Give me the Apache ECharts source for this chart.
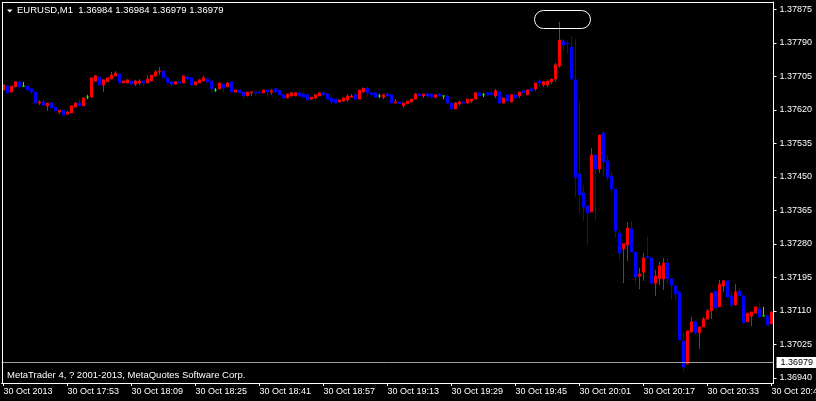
<!DOCTYPE html>
<html><head><meta charset="utf-8">
<script src="https://cdn.jsdelivr.net/npm/echarts@6/dist/echarts.min.js"></script>
<style>html,body{margin:0;padding:0;background:#000;}#c{width:816px;height:401px;}</style>
</head><body><div id="c"></div>
<script>
const symbolTitle = 'EURUSD,M1';
const headerOHLC = ['1.36984', '1.36984', '1.36979', '1.36979'];
const copyrightText = 'MetaTrader 4, ? 2001-2013, MetaQuotes Software Corp.';
const bidPrice = 1.36979;
const firstMinute = '17:37';
const xTickLabels = ['30 Oct 2013', '30 Oct 17:53', '30 Oct 18:09', '30 Oct 18:25', '30 Oct 18:41', '30 Oct 18:57', '30 Oct 19:13', '30 Oct 19:29', '30 Oct 19:45', '30 Oct 20:01', '30 Oct 20:17', '30 Oct 20:33', '30 Oct 20:49'];
const yTicks = [1.36940, 1.37025, 1.37110, 1.37195, 1.37280, 1.37365, 1.37450, 1.37535, 1.37620, 1.37705, 1.37790, 1.37875];
const yRange = [1.369268, 1.378934];
// highlighted object around the spike: [first bar, last bar, top price, bottom price]
const highlightBox = [133, 146, 1.37873, 1.37827];

const opens = [
1.37670, 1.37680, 1.37665, 1.37678, 1.37691, 1.37680, 1.37680, 1.37673, 1.37665, 1.37637,
1.37640, 1.37630, 1.37637, 1.37627, 1.37614, 1.37619, 1.37609, 1.37612, 1.37627, 1.37637,
1.37630, 1.37652, 1.37652, 1.37693, 1.37703, 1.37683, 1.37691, 1.37698, 1.37706, 1.37711,
1.37688, 1.37688, 1.37693, 1.37685, 1.37688, 1.37693, 1.37688, 1.37693, 1.37706, 1.37716,
1.37718, 1.37701, 1.37691, 1.37685, 1.37691, 1.37688, 1.37703, 1.37701, 1.37683, 1.37688,
1.37693, 1.37698, 1.37693, 1.37670, 1.37673, 1.37685, 1.37678, 1.37691, 1.37665, 1.37670,
1.37665, 1.37655, 1.37663, 1.37665, 1.37665, 1.37663, 1.37670, 1.37665, 1.37673, 1.37670,
1.37658, 1.37650, 1.37655, 1.37655, 1.37663, 1.37660, 1.37658, 1.37647, 1.37650, 1.37655,
1.37663, 1.37660, 1.37650, 1.37647, 1.37640, 1.37642, 1.37645, 1.37652, 1.37658, 1.37647,
1.37665, 1.37675, 1.37663, 1.37663, 1.37655, 1.37652, 1.37660, 1.37658, 1.37637, 1.37640,
1.37630, 1.37635, 1.37640, 1.37647, 1.37660, 1.37655, 1.37660, 1.37660, 1.37652, 1.37660,
1.37655, 1.37655, 1.37637, 1.37622, 1.37635, 1.37640, 1.37637, 1.37642, 1.37647, 1.37663,
1.37658, 1.37663, 1.37663, 1.37655, 1.37665, 1.37637, 1.37658, 1.37640, 1.37658, 1.37655,
1.37668, 1.37658, 1.37673, 1.37673, 1.37693, 1.37683, 1.37683, 1.37691, 1.37698, 1.37731,
1.37794, 1.37789, 1.37779, 1.37696, 1.37457, 1.37409, 1.37376, 1.37361, 1.37505, 1.37470,
1.37561, 1.37490, 1.37452, 1.37419, 1.37307, 1.37267, 1.37277, 1.37318, 1.37259, 1.37198,
1.37208, 1.37247, 1.37244, 1.37180, 1.37191, 1.37191, 1.37231, 1.37191, 1.37173, 1.37158,
1.37033, 1.36975, 1.37056, 1.37082, 1.37054, 1.37069, 1.37089, 1.37110, 1.37160, 1.37120,
1.37173, 1.37186, 1.37148, 1.37125, 1.37160, 1.37148, 1.37082, 1.37097, 1.37104, 1.37115,
1.37097, 1.37097, 1.37077
];
const closes = [
1.37683, 1.37663, 1.37680, 1.37691, 1.37678, 1.37680, 1.37670, 1.37665, 1.37637, 1.37640,
1.37632, 1.37637, 1.37625, 1.37617, 1.37619, 1.37607, 1.37614, 1.37630, 1.37637, 1.37630,
1.37650, 1.37652, 1.37701, 1.37706, 1.37683, 1.37696, 1.37701, 1.37708, 1.37713, 1.37688,
1.37693, 1.37696, 1.37685, 1.37693, 1.37693, 1.37688, 1.37698, 1.37708, 1.37716, 1.37718,
1.37701, 1.37688, 1.37685, 1.37691, 1.37688, 1.37706, 1.37698, 1.37683, 1.37691, 1.37696,
1.37701, 1.37691, 1.37673, 1.37670, 1.37688, 1.37675, 1.37688, 1.37665, 1.37670, 1.37663,
1.37655, 1.37665, 1.37665, 1.37663, 1.37663, 1.37670, 1.37665, 1.37668, 1.37665, 1.37658,
1.37650, 1.37660, 1.37663, 1.37663, 1.37655, 1.37652, 1.37645, 1.37652, 1.37658, 1.37663,
1.37658, 1.37647, 1.37640, 1.37637, 1.37645, 1.37650, 1.37655, 1.37655, 1.37647, 1.37670,
1.37675, 1.37663, 1.37658, 1.37652, 1.37655, 1.37658, 1.37655, 1.37637, 1.37640, 1.37635,
1.37637, 1.37642, 1.37647, 1.37660, 1.37655, 1.37660, 1.37655, 1.37652, 1.37658, 1.37655,
1.37655, 1.37637, 1.37622, 1.37637, 1.37640, 1.37637, 1.37647, 1.37647, 1.37663, 1.37655,
1.37658, 1.37658, 1.37658, 1.37668, 1.37637, 1.37650, 1.37642, 1.37658, 1.37650, 1.37665,
1.37663, 1.37670, 1.37668, 1.37688, 1.37688, 1.37691, 1.37693, 1.37698, 1.37734, 1.37797,
1.37784, 1.37787, 1.37698, 1.37449, 1.37404, 1.37373, 1.37358, 1.37505, 1.37470, 1.37556,
1.37488, 1.37449, 1.37419, 1.37313, 1.37257, 1.37280, 1.37320, 1.37259, 1.37196, 1.37203,
1.37244, 1.37244, 1.37180, 1.37198, 1.37224, 1.37231, 1.37191, 1.37175, 1.37153, 1.37036,
1.36967, 1.37059, 1.37082, 1.37054, 1.37069, 1.37089, 1.37110, 1.37155, 1.37117, 1.37178,
1.37186, 1.37145, 1.37125, 1.37158, 1.37148, 1.37079, 1.37104, 1.37107, 1.37120, 1.37094,
1.37097, 1.37074, 1.37107
];
const lows = [
1.37670, 1.37663, 1.37665, 1.37678, 1.37678, 1.37678, 1.37670, 1.37660, 1.37637, 1.37632,
1.37632, 1.37617, 1.37625, 1.37617, 1.37609, 1.37607, 1.37609, 1.37612, 1.37627, 1.37630,
1.37630, 1.37647, 1.37652, 1.37691, 1.37683, 1.37665, 1.37691, 1.37698, 1.37706, 1.37688,
1.37688, 1.37688, 1.37683, 1.37680, 1.37683, 1.37678, 1.37688, 1.37693, 1.37703, 1.37708,
1.37701, 1.37688, 1.37680, 1.37685, 1.37688, 1.37688, 1.37698, 1.37680, 1.37683, 1.37688,
1.37693, 1.37691, 1.37663, 1.37665, 1.37673, 1.37665, 1.37678, 1.37665, 1.37665, 1.37663,
1.37647, 1.37655, 1.37655, 1.37655, 1.37663, 1.37663, 1.37652, 1.37658, 1.37663, 1.37658,
1.37650, 1.37650, 1.37655, 1.37655, 1.37655, 1.37652, 1.37645, 1.37645, 1.37647, 1.37655,
1.37658, 1.37647, 1.37635, 1.37637, 1.37637, 1.37640, 1.37640, 1.37650, 1.37647, 1.37647,
1.37665, 1.37655, 1.37658, 1.37650, 1.37650, 1.37647, 1.37655, 1.37637, 1.37637, 1.37635,
1.37625, 1.37635, 1.37637, 1.37645, 1.37655, 1.37650, 1.37650, 1.37650, 1.37650, 1.37655,
1.37647, 1.37635, 1.37622, 1.37622, 1.37630, 1.37637, 1.37637, 1.37637, 1.37647, 1.37655,
1.37652, 1.37658, 1.37658, 1.37650, 1.37637, 1.37637, 1.37642, 1.37640, 1.37650, 1.37650,
1.37663, 1.37658, 1.37665, 1.37668, 1.37678, 1.37678, 1.37678, 1.37685, 1.37691, 1.37726,
1.37767, 1.37762, 1.37698, 1.37399, 1.37361, 1.37338, 1.37277, 1.37361, 1.37340, 1.37460,
1.37452, 1.37439, 1.37409, 1.37295, 1.37241, 1.37180, 1.37236, 1.37259, 1.37180, 1.37165,
1.37186, 1.37244, 1.37180, 1.37148, 1.37175, 1.37163, 1.37178, 1.37140, 1.37135, 1.37036,
1.36955, 1.36975, 1.37056, 1.37049, 1.37013, 1.37069, 1.37089, 1.37089, 1.37117, 1.37120,
1.37158, 1.37145, 1.37120, 1.37125, 1.37148, 1.37079, 1.37082, 1.37071, 1.37104, 1.37094,
1.37097, 1.37074, 1.37077
];
const highs = [
1.37685, 1.37683, 1.37680, 1.37691, 1.37691, 1.37691, 1.37680, 1.37673, 1.37665, 1.37645,
1.37647, 1.37637, 1.37637, 1.37627, 1.37619, 1.37619, 1.37617, 1.37630, 1.37640, 1.37647,
1.37650, 1.37658, 1.37701, 1.37708, 1.37703, 1.37696, 1.37701, 1.37716, 1.37718, 1.37711,
1.37693, 1.37696, 1.37693, 1.37696, 1.37698, 1.37693, 1.37708, 1.37708, 1.37721, 1.37729,
1.37718, 1.37701, 1.37691, 1.37691, 1.37691, 1.37706, 1.37706, 1.37701, 1.37691, 1.37696,
1.37706, 1.37701, 1.37693, 1.37675, 1.37688, 1.37685, 1.37691, 1.37691, 1.37670, 1.37670,
1.37665, 1.37665, 1.37668, 1.37665, 1.37665, 1.37670, 1.37670, 1.37673, 1.37675, 1.37670,
1.37658, 1.37660, 1.37665, 1.37663, 1.37663, 1.37665, 1.37658, 1.37652, 1.37658, 1.37665,
1.37665, 1.37660, 1.37650, 1.37647, 1.37645, 1.37650, 1.37660, 1.37660, 1.37663, 1.37670,
1.37675, 1.37678, 1.37663, 1.37663, 1.37660, 1.37658, 1.37665, 1.37658, 1.37647, 1.37640,
1.37637, 1.37642, 1.37647, 1.37663, 1.37663, 1.37660, 1.37660, 1.37663, 1.37658, 1.37663,
1.37655, 1.37655, 1.37637, 1.37640, 1.37642, 1.37640, 1.37647, 1.37647, 1.37665, 1.37663,
1.37663, 1.37665, 1.37670, 1.37673, 1.37665, 1.37650, 1.37658, 1.37658, 1.37658, 1.37665,
1.37673, 1.37670, 1.37673, 1.37688, 1.37698, 1.37693, 1.37693, 1.37698, 1.37739, 1.37843,
1.37800, 1.37794, 1.37807, 1.37800, 1.37642, 1.37429, 1.37376, 1.37523, 1.37505, 1.37556,
1.37566, 1.37505, 1.37465, 1.37419, 1.37315, 1.37280, 1.37335, 1.37338, 1.37259, 1.37219,
1.37257, 1.37297, 1.37244, 1.37214, 1.37234, 1.37244, 1.37244, 1.37191, 1.37173, 1.37158,
1.37054, 1.37059, 1.37094, 1.37082, 1.37069, 1.37094, 1.37115, 1.37155, 1.37160, 1.37188,
1.37188, 1.37186, 1.37160, 1.37178, 1.37168, 1.37148, 1.37104, 1.37107, 1.37120, 1.37130,
1.37120, 1.37097, 1.37107
];

const UP = '#ff0000', DOWN = '#0000ff', DOJI = '#00ff00';
const FONT = '"Liberation Sans", Arial, sans-serif';

// minute labels for each bar
const categories = [];
const [h0, m0] = firstMinute.split(':').map(Number);
for (let i = 0; i < opens.length; i++) {
  const t = h0 * 60 + m0 + i;
  categories.push(String(Math.floor(t / 60)).padStart(2, '0') + ':' + String(t % 60).padStart(2, '0'));
}
const candles = opens.map((o, i) => {
  const v = [o, closes[i], lows[i], highs[i]];
  if (o === closes[i]) {
    return { value: v, itemStyle: { color: DOJI, color0: DOJI, borderColor: DOJI, borderColor0: DOJI, borderColorDoji: DOJI } };
  }
  return v;
});

const chart = echarts.init(document.getElementById('c'), null, { renderer: 'canvas' });

function baseGraphics(extra) {
  const g = [
    { id: 'frameTop', type: 'line', z: 100, shape: { x1: 2, y1: 2.5, x2: 774, y2: 2.5 }, style: { stroke: '#fff', lineWidth: 1 } },
    { id: 'frameLeft', type: 'line', z: 100, shape: { x1: 2.5, y1: 2, x2: 2.5, y2: 384 }, style: { stroke: '#fff', lineWidth: 1 } },
    { id: 'tri', type: 'polygon', z: 100, shape: { points: [[7, 9.5], [12.5, 9.5], [9.75, 12.5]] }, style: { fill: '#fff' } },
    { id: 'title', type: 'text', z: 100, x: 17, y: 10.5, style: { text: symbolTitle + '  ' + headerOHLC.join(' '), fill: '#fff', font: '9.5px ' + FONT, textVerticalAlign: 'middle' } },
    { id: 'copy', type: 'text', z: 100, x: 7, y: 375.5, style: { text: copyrightText, fill: '#fff', font: '9.5px ' + FONT, textVerticalAlign: 'middle' } }
  ];
  return g.concat(extra || []);
}

chart.setOption({
  animation: false,
  backgroundColor: '#000',
  grid: { left: 1.5, right: 42.5, top: 2, bottom: 18, containLabel: false, outerBoundsMode: 'none' },
  xAxis: {
    type: 'category',
    data: categories,
    boundaryGap: true,
    axisLine: { show: true, lineStyle: { color: '#fff', width: 1 } },
    axisTick: { show: true, alignWithLabel: true, interval: 15, length: 3, lineStyle: { color: '#fff' } },
    axisLabel: {
      show: true, interval: 15, color: '#fff', fontFamily: FONT, fontSize: 9, margin: 4, align: 'left',
      hideOverlap: false,
      formatter: (val, idx) => xTickLabels[Math.round(idx / 16)] || val
    },
    splitLine: { show: false }
  },
  yAxis: {
    type: 'value',
    position: 'right',
    min: yRange[0], max: yRange[1],
    scale: true,
    axisLine: { show: true, lineStyle: { color: '#fff', width: 1 } },
    axisTick: { show: true, length: 3, customValues: yTicks, lineStyle: { color: '#fff' } },
    axisLabel: { show: true, customValues: yTicks, color: '#fff', fontFamily: FONT, fontSize: 9, margin: 6, formatter: v => v.toFixed(5) },
    splitLine: { show: false }
  },
  series: [{
    type: 'candlestick',
    data: candles,
    barWidth: 2,
    itemStyle: { color: UP, color0: DOWN, borderColor: UP, borderColor0: DOWN, borderColorDoji: DOJI, borderWidth: 1 }
  }],
  graphic: baseGraphics()
});

// objects anchored on bars/prices through the axes
const xa = chart.convertToPixel({ xAxisIndex: 0 }, highlightBox[0]) - 2;
const xb = chart.convertToPixel({ xAxisIndex: 0 }, highlightBox[1]) + 2;
const ya = chart.convertToPixel({ yAxisIndex: 0 }, highlightBox[2]);
const yb = chart.convertToPixel({ yAxisIndex: 0 }, highlightBox[3]);
const bx = Math.round(xa) + 0.5, by = Math.round(ya) + 0.5;
const bw = Math.round(xb - xa), bh = Math.round(yb - ya);
const yBid = Math.round(chart.convertToPixel({ yAxisIndex: 0 }, bidPrice)) + 0.5;
const xLeft = chart.convertToPixel({ xAxisIndex: 0 }, 0) - 2;
const xRight = chart.convertToPixel({ xAxisIndex: 0 }, opens.length - 1) + 2;
chart.setOption({
  graphic: baseGraphics([
    { id: 'hl', type: 'rect', z: 100, shape: { x: bx, y: by, width: bw, height: bh, r: bh / 2 }, style: { fill: 'none', stroke: '#fff', lineWidth: 1 } },
    { id: 'bidLine', type: 'line', z: 50, shape: { x1: xLeft, y1: yBid, x2: xRight, y2: yBid }, style: { stroke: '#a0a0a0', lineWidth: 1 } },
    { id: 'bidBox', type: 'text', z: 101, x: xRight + 3, y: yBid, style: {
        text: bidPrice.toFixed(5), fill: '#000', backgroundColor: '#fff', padding: [1, 4, 1, 4],
        font: '9px ' + FONT, textVerticalAlign: 'middle' } }
  ])
});
</script>
</body></html>
